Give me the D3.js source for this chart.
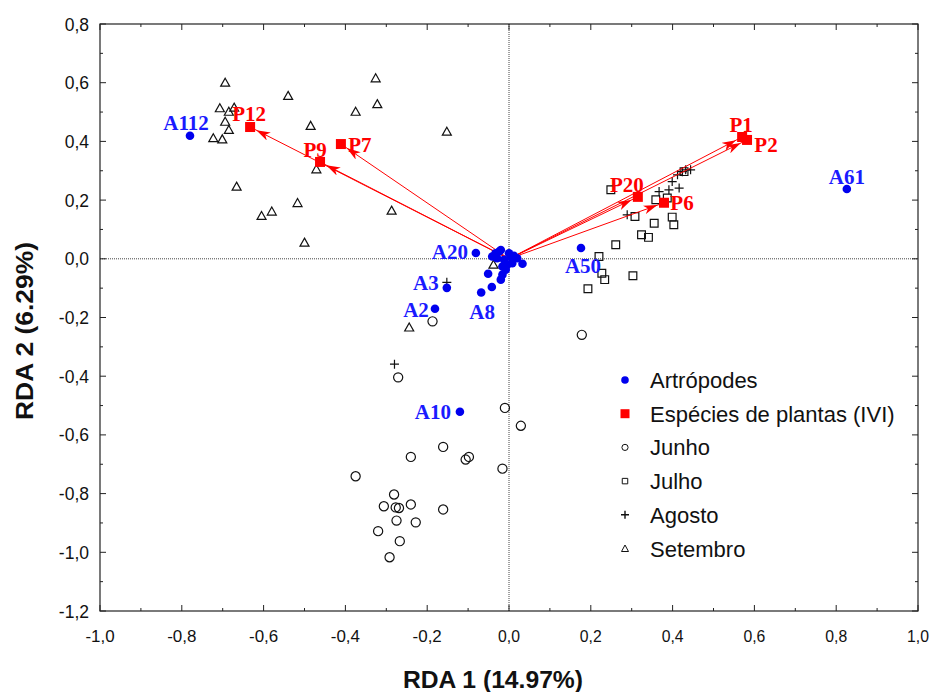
<!DOCTYPE html>
<html lang="pt">
<head>
    <meta charset="UTF-8">
    <title>RDA</title>
    <script src="https://d3js.org/d3.v7.min.js"></script>
</head>
<style>
    html, body {
        margin: 0;
        padding: 0;
        background: #fff;
    }
</style>
<body>
<svg id="chart" width="936" height="692"></svg>

<script>
    // arthropod scores [name, rda1, rda2]
    var artropodes = [
        ['A112', -0.780, 0.419], ['A61', 0.826, 0.238], ['A20', -0.081, 0.020],
        ['A3', -0.152, -0.099], ['A2', -0.181, -0.170], ['A8', -0.068, -0.115],
        ['A50', 0.176, 0.037], ['A10', -0.120, -0.521]
    ]
    // unlabeled arthropods around the origin
    var artropodesCentro = [
        [-0.051, -0.051], [-0.042, -0.096], [-0.020, -0.071], [-0.016, -0.054],
        [-0.008, -0.037], [-0.024, 0.025], [-0.033, 0.019], [0.000, 0.019],
        [0.012, 0.010], [0.033, -0.017], [0.008, -0.015], [0.020, 0.002],
        [-0.012, -0.003], [-0.029, 0.002], [-0.041, 0.008], [-0.004, -0.020],
        [-0.016, -0.026], [-0.020, 0.030], [0.005, 0.005]
    ]
    // plant species (IVI) arrows
    var plantas = [
        ['P1', 0.570, 0.415], ['P2', 0.582, 0.405], ['P20', 0.315, 0.211],
        ['P6', 0.379, 0.191], ['P12', -0.633, 0.449], ['P7', -0.411, 0.391],
        ['P9', -0.462, 0.330]
    ]
    var junho = [
        [-0.271, -0.404], [-0.010, -0.508], [0.029, -0.569], [-0.161, -0.641],
        [-0.240, -0.675], [-0.098, -0.675], [-0.106, -0.684], [-0.016, -0.715],
        [-0.375, -0.741], [-0.281, -0.803], [-0.306, -0.843], [-0.269, -0.849],
        [-0.277, -0.847], [-0.240, -0.837], [-0.161, -0.854], [-0.275, -0.892],
        [-0.228, -0.898], [-0.320, -0.928], [-0.267, -0.962], [-0.292, -1.017],
        [-0.187, -0.213], [0.178, -0.259]
    ]
    var julho = [
        [0.249, 0.235], [0.308, 0.144], [0.355, 0.121], [0.399, 0.142],
        [0.403, 0.116], [0.324, 0.082], [0.341, 0.073], [0.261, 0.048],
        [0.220, 0.008], [0.227, -0.049], [0.234, -0.071], [0.303, -0.058],
        [0.193, -0.102], [0.359, 0.201], [0.387, 0.207], [0.428, 0.297]
    ]
    var agosto = [
        [0.289, 0.150], [0.367, 0.229], [0.391, 0.235], [0.416, 0.241],
        [0.399, 0.263], [0.412, 0.286], [0.432, 0.303], [0.444, 0.303],
        [0.424, 0.297], [-0.280, -0.359], [-0.152, -0.080]
    ]
    var setembro = [
        [-0.694, 0.600], [-0.540, 0.555], [-0.326, 0.615], [-0.322, 0.527],
        [-0.375, 0.501], [-0.707, 0.513], [-0.685, 0.501], [-0.672, 0.515],
        [-0.694, 0.467], [-0.685, 0.439], [-0.723, 0.411], [-0.701, 0.407],
        [-0.485, 0.453], [-0.152, 0.433], [-0.471, 0.305], [-0.666, 0.246],
        [-0.517, 0.190], [-0.605, 0.146], [-0.580, 0.161], [-0.287, 0.164],
        [-0.500, 0.055], [-0.244, -0.234], [-0.038, -0.020]
    ]
    var xTicks = [-1.0, -0.8, -0.6, -0.4, -0.2, 0.0, 0.2, 0.4, 0.6, 0.8, 1.0]
    var yTicks = [0.8, 0.6, 0.4, 0.2, 0.0, -0.2, -0.4, -0.6, -0.8, -1.0, -1.2]
    var legendItems = ['Artrópodes', 'Espécies de plantas (IVI)', 'Junho', 'Julho', 'Agosto', 'Setembro']

    // label offsets (dx, dy) from the point, in px
    var artLabelPos = {
        A112: [-4, -6], A61: [0, -5], A20: [-26, 6], A3: [-21, 2],
        A2: [-19, 8], A8: [1, 26], A50: [2, 25], A10: [-27, 7]
    }
    var plantLabelPos = {
        P1: [-1, -5], P2: [19, 12], P20: [-11, -5], P6: [18, 7],
        P12: [-1, -6], P7: [19, 8], P9: [-5, -5]
    }

    var svg = d3.select('#chart')
    var mLeft = 100, mRight = 918, mTop = 24, mBottom = 611
    var x = d3.scaleLinear().domain([-1, 1]).range([mLeft, mRight])
    var y = d3.scaleLinear().domain([-1.2, 0.8]).range([mBottom, mTop])
    var fmt = function (d) { return Math.abs(d) < 1e-9 ? '0,0' : d.toFixed(1).replace('.', ',') }
    var minorX = d3.range(-0.9, 1.0, 0.2)
    var minorY = d3.range(-1.1, 0.8, 0.2)

    // zero lines
    svg.append('line').attr('x1', mLeft).attr('x2', mRight).attr('y1', y(0)).attr('y2', y(0))
        .attr('stroke', '#444').attr('stroke-dasharray', '1,1')
    svg.append('line').attr('x1', x(0)).attr('x2', x(0)).attr('y1', mTop).attr('y2', mBottom)
        .attr('stroke', '#444').attr('stroke-dasharray', '1,1')

    // axes, ticks pointing inward
    var ax = svg.append('g').attr('font-family', 'Arial, "Liberation Sans", sans-serif')
    function tickLine(g, x1, y1, x2, y2) {
        g.append('line').attr('x1', x1).attr('y1', y1).attr('x2', x2).attr('y2', y2)
            .attr('stroke', '#222').attr('stroke-width', 1)
    }
    xTicks.forEach(function (t) {
        tickLine(ax, x(t), mBottom, x(t), mBottom - 6)
        tickLine(ax, x(t), mTop, x(t), mTop + 6)
    })
    minorX.forEach(function (t) {
        tickLine(ax, x(t), mBottom, x(t), mBottom - 3)
        tickLine(ax, x(t), mTop, x(t), mTop + 3)
    })
    yTicks.forEach(function (t) {
        tickLine(ax, mLeft, y(t), mLeft + 6, y(t))
        tickLine(ax, mRight, y(t), mRight - 6, y(t))
    })
    minorY.forEach(function (t) {
        tickLine(ax, mLeft, y(t), mLeft + 3, y(t))
        tickLine(ax, mRight, y(t), mRight - 3, y(t))
    })
    ax.append('rect').attr('x', mLeft).attr('y', mTop).attr('width', mRight - mLeft).attr('height', mBottom - mTop)
        .attr('fill', 'none').attr('stroke', '#222').attr('stroke-width', 1.2)

    ax.selectAll('.xl').data(xTicks).enter().append('text')
        .attr('x', function (d) { return x(d) }).attr('y', mBottom + 31)
        .attr('text-anchor', 'middle').attr('font-size', 17)
        .attr('textLength', function (d) { return fmt(d).length * 7.3 })
        .attr('lengthAdjust', 'spacingAndGlyphs')
        .attr('fill', '#111')
        .text(fmt)
    ax.selectAll('.yl').data(yTicks).enter().append('text')
        .attr('x', mLeft - 11).attr('y', function (d) { return y(d) + 6.5 })
        .attr('text-anchor', 'end').attr('font-size', 17.5).attr('fill', '#111')
        .text(fmt)

    ax.append('text').attr('x', 493).attr('y', 688).attr('text-anchor', 'middle')
        .attr('font-size', 23).attr('font-weight', 'bold').attr('fill', '#111')
        .attr('textLength', 180).attr('lengthAdjust', 'spacingAndGlyphs')
        .text('RDA 1 (14.97%)')
    ax.append('text').attr('transform', 'translate(33,331) rotate(-90)').attr('text-anchor', 'middle')
        .attr('font-size', 23).attr('font-weight', 'bold').attr('fill', '#111')
        .attr('textLength', 178).attr('lengthAdjust', 'spacingAndGlyphs')
        .text('RDA 2 (6.29%)')

    // arrowhead
    svg.append('defs').append('marker').attr('id', 'head')
        .attr('viewBox', '0 0 14 9').attr('refX', 21).attr('refY', 4.5)
        .attr('markerWidth', 14).attr('markerHeight', 9).attr('markerUnits', 'userSpaceOnUse')
        .attr('orient', 'auto')
        .append('path').attr('d', 'M0,0 L14,4.5 L0,9 L4,4.5 Z').attr('fill', 'red')

    // sample markers
    var sym = function (type, size) { return d3.symbol().type(type).size(size)() }
    function drawSet(data, path, cls) {
        svg.selectAll('.' + cls).data(data).enter().append('path').attr('class', cls)
            .attr('transform', function (d) { return 'translate(' + x(d[0]) + ',' + y(d[1]) + ')' })
            .attr('d', path).attr('fill', 'none').attr('stroke', '#111').attr('stroke-width', 1.2)
    }
    var circlePath = sym(d3.symbolCircle, 66)
    var squarePath = sym(d3.symbolSquare, 60)
    var plusPath = 'M-4.5,0H4.5M0,-4.5V4.5'
    var triPath = 'M0,-4.5L4.5,3.5L-4.5,3.5Z'
    drawSet(junho, circlePath, 'jun')
    drawSet(julho, squarePath, 'jul')
    drawSet(agosto, plusPath, 'ago')
    drawSet(setembro, triPath, 'set')

    // arrows
    svg.selectAll('.arrow').data(plantas).enter().append('line')
        .attr('x1', x(0)).attr('y1', y(0))
        .attr('x2', function (d) { return x(d[1]) }).attr('y2', function (d) { return y(d[2]) })
        .attr('stroke', 'red').attr('stroke-width', 1).attr('marker-end', 'url(#head)')
    svg.selectAll('.psq').data(plantas).enter().append('rect')
        .attr('x', function (d) { return x(d[1]) - 5 }).attr('y', function (d) { return y(d[2]) - 5 })
        .attr('width', 10).attr('height', 10).attr('fill', 'red')
    svg.selectAll('.plab').data(plantas).enter().append('text')
        .attr('x', function (d) { return x(d[1]) + plantLabelPos[d[0]][0] })
        .attr('y', function (d) { return y(d[2]) + plantLabelPos[d[0]][1] })
        .attr('text-anchor', 'middle').attr('font-family', '"Liberation Serif", "Times New Roman", serif')
        .attr('font-weight', 'bold').attr('font-size', 21).attr('fill', 'red')
        .text(function (d) { return d[0] })

    // arthropods
    svg.selectAll('.ac').data(artropodesCentro).enter().append('circle')
        .attr('cx', function (d) { return x(d[0]) }).attr('cy', function (d) { return y(d[1]) })
        .attr('r', 4.3).attr('fill', '#0000ee')
    svg.selectAll('.art').data(artropodes).enter().append('circle')
        .attr('cx', function (d) { return x(d[1]) }).attr('cy', function (d) { return y(d[2]) })
        .attr('r', 4.3).attr('fill', '#0000ee')
    svg.selectAll('.alab').data(artropodes).enter().append('text')
        .attr('x', function (d) { return x(d[1]) + artLabelPos[d[0]][0] })
        .attr('y', function (d) { return y(d[2]) + artLabelPos[d[0]][1] })
        .attr('text-anchor', 'middle').attr('font-family', '"Liberation Serif", "Times New Roman", serif')
        .attr('font-weight', 'bold').attr('font-size', 21).attr('fill', '#1a1aff')
        .text(function (d) { return d[0] })

    // legend
    var lg = svg.append('g').attr('transform', 'translate(625,380)')
    var legendMarks = [
        function (g) { g.append('circle').attr('r', 3.8).attr('fill', '#0000ee') },
        function (g) { g.append('rect').attr('x', -4.5).attr('y', -4.5).attr('width', 9).attr('height', 9).attr('fill', 'red') },
        function (g) { g.append('path').attr('d', sym(d3.symbolCircle, 30)).attr('fill', 'none').attr('stroke', '#111') },
        function (g) { g.append('path').attr('d', sym(d3.symbolSquare, 30)).attr('fill', 'none').attr('stroke', '#111') },
        function (g) { g.append('path').attr('d', 'M-4,0H4M0,-4V4').attr('stroke', '#111').attr('stroke-width', 1.4) },
        function (g) { g.append('path').attr('d', 'M0,-3.5L3.5,3L-3.5,3Z').attr('fill', 'none').attr('stroke', '#111') }
    ]
    legendItems.forEach(function (name, i) {
        var row = lg.append('g').attr('transform', 'translate(0,' + (i * 33.7) + ')')
        legendMarks[i](row)
        row.append('text').attr('x', 25).attr('y', 8)
            .attr('font-family', 'Arial, "Liberation Sans", sans-serif').attr('font-size', 22)
            .attr('fill', '#111').text(name)
    })
</script>
</body>
</html>
